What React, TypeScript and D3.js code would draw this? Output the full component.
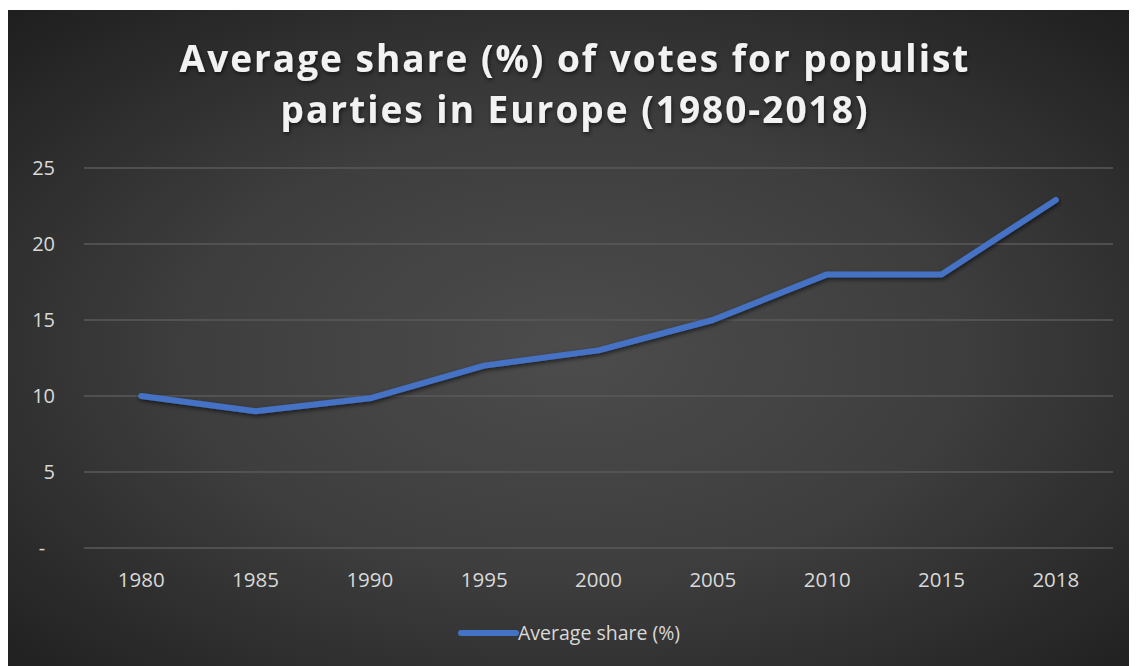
import React from "react";
import * as d3 from "d3";

const years = ["1980", "1985", "1990", "1995", "2000", "2005", "2010", "2015", "2018"];
const shares = [10, 9, 9.85, 12, 13, 15, 18, 18, 22.9];
const yTicks = [0, 5, 10, 15, 20, 25];
const titleLines = ["Average share (%) of votes for populist", "parties in Europe (1980-2018)"];
const seriesName = "Average share (%)";

const W = 1129;
const H = 656;
const plot = { left: 76, right: 1105, top: 158, bottom: 538 };

export default function App() {
  const x = d3.scaleBand<string>().domain(years).range([plot.left, plot.right]);
  const y = d3.scaleLinear().domain([0, 25]).range([plot.bottom, plot.top]);
  const line = d3
    .line<number>()
    .x((_, i) => (x(years[i]) as number) + x.bandwidth() / 2)
    .y((d) => y(d));
  const font = "'Open Sans', sans-serif";
  return (
    <svg width={W} height={H} style={{ display: "block", marginTop: 2 }} fontFamily={font}>
      <defs>
        <radialGradient id="bg" cx="0.5" cy="0.52" r="0.75" gradientUnits="objectBoundingBox">
          <stop offset="0" stopColor="#4c4c4c" />
          <stop offset="0.45" stopColor="#3e3e3e" />
          <stop offset="1" stopColor="#1c1c1c" />
        </radialGradient>
        <filter id="sh" x="-10%" y="-10%" width="120%" height="130%">
          <feDropShadow dx="1" dy="2" stdDeviation="2" floodColor="#000" floodOpacity="0.6" />
        </filter>
      </defs>
      <rect x={0} y={0} width={W} height={H} fill="url(#bg)" />
      {yTicks.map((t) => (
        <g key={t}>
          <line x1={plot.left} x2={plot.right} y1={y(t)} y2={y(t)} stroke="#5a5a5a" strokeWidth={1.3} />
          {t === 0 ? (
            <text x={34} y={y(t)} dy="0.35em" fill="#d9d9d9" fontSize={20} textAnchor="middle">
              -
            </text>
          ) : (
            <text x={47} y={y(t)} dy="0.35em" fill="#d9d9d9" fontSize={20} textAnchor="end">
              {t}
            </text>
          )}
        </g>
      ))}
      {years.map((yr) => (
        <text
          key={yr}
          x={(x(yr) as number) + x.bandwidth() / 2}
          y={577}
          fill="#d9d9d9"
          fontSize={20.5}
          textAnchor="middle"
        >
          {yr}
        </text>
      ))}
      <path
        d={line(shares) || ""}
        fill="none"
        stroke="#4472c4"
        strokeWidth={6}
        strokeLinecap="round"
        strokeLinejoin="round"
        filter="url(#sh)"
      />
      {titleLines.map((t, i) => (
        <text
          key={i}
          x={567}
          y={62 + i * 51}
          fill="#f2f2f2"
          fontSize={37}
          fontWeight={700}
          letterSpacing={2.0}
          textAnchor="middle"
          filter="url(#sh)"
        >
          {t}
        </text>
      ))}
      <line x1={453} x2={508} y1={623} y2={623} stroke="#4472c4" strokeWidth={6} strokeLinecap="round" />
      <text x={510} y={623} dy="0.35em" fill="#d9d9d9" fontSize={19.5}>
        {seriesName}
      </text>
    </svg>
  );
}
